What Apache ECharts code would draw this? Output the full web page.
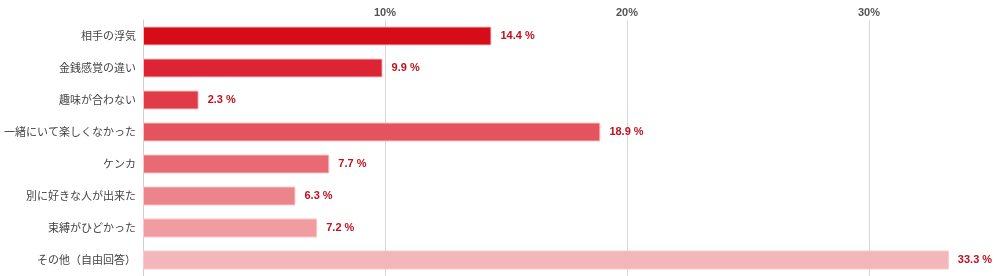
<!DOCTYPE html>
<html><head><meta charset="utf-8">
<script src="https://cdn.jsdelivr.net/npm/echarts@6/dist/echarts.min.js"></script>
<style>html,body{margin:0;padding:0;background:#fff}#c{width:996px;height:276px}</style>
</head><body><div id="c"></div>
<script>
const categories = ['相手の浮気','金銭感覚の違い','趣味が合わない','一緒にいて楽しくなかった','ケンカ','別に好きな人が出来た','束縛がひどかった','その他（自由回答）'];
const values = [14.4, 9.9, 2.3, 18.9, 7.7, 6.3, 7.2, 33.3];
const barColors = ['#d70c19','#dc2434','#e03c48','#e4535e','#e86a73','#ec848b','#f09ca1','#f3b6ba'];
const chart = echarts.init(document.getElementById('c'));
chart.setOption({
  animation:false,
  grid:{left:143,right:6,top:20,bottom:0,containLabel:false,outerBoundsMode:'none'},
  xAxis:{type:'value',position:'top',min:0,max:35,interval:10,
    axisLine:{show:false},axisTick:{show:false},
    splitLine:{showMinLine:false,showMaxLine:false,lineStyle:{color:'#d8d8d8',width:1}},
    axisLabel:{formatter:v=>v===0||v>30?'':v+'%',color:'#555',fontWeight:'bold',fontSize:11,fontFamily:'Liberation Sans, Arial',margin:2}},
  yAxis:{type:'category',inverse:true,data:categories,
    axisLine:{lineStyle:{color:'#c8d0dc'}},
    axisTick:{length:4,lineStyle:{color:'#c8d0dc'}},
    axisLabel:{color:'#444',fontSize:11,fontFamily:'Noto Sans CJK JP',margin:7}},
  series:[{type:'bar',barWidth:19,
    data:values.map((v,i)=>({value:v,itemStyle:{color:barColors[i],borderColor:'rgba(255,200,200,0.9)',borderWidth:1}})),
    label:{show:true,position:'right',distance:9,formatter:p=>p.value+' %',color:'#c0101c',fontWeight:'bold',fontSize:11,fontFamily:'Liberation Sans, Arial'}}]
});
</script></body></html>
